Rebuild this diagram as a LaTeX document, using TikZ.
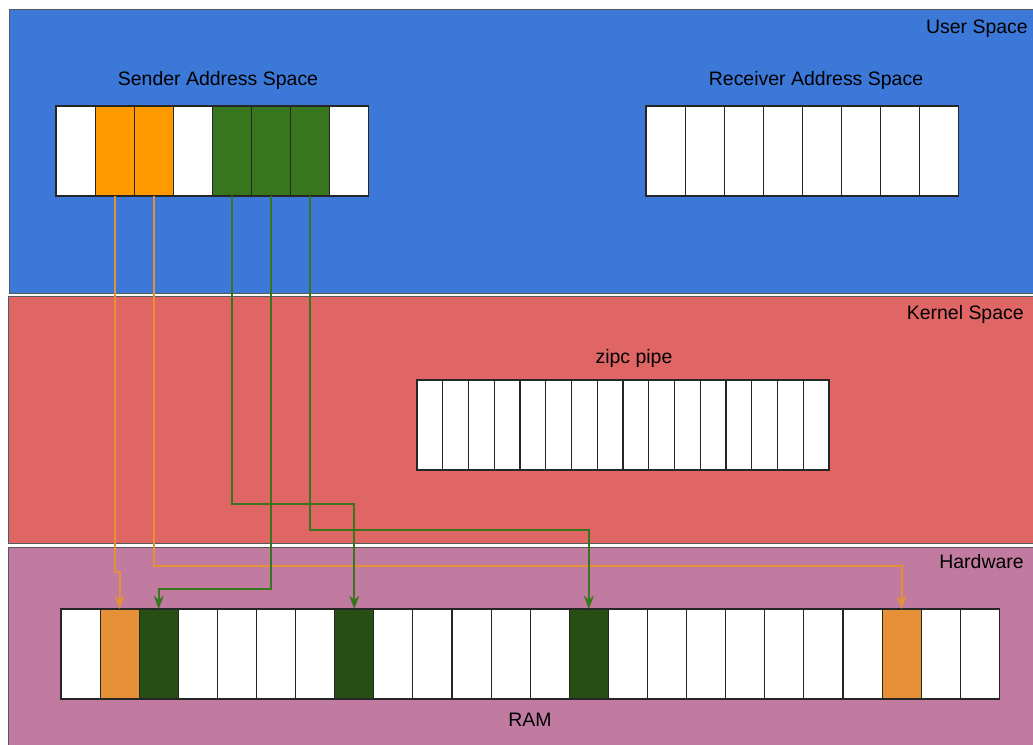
\documentclass[tikz,border=0pt]{standalone}
\usepackage{fontspec}
\setmainfont{Liberation Sans}
\usepackage{tikz}
\usetikzlibrary{arrows.meta, positioning}
\definecolor{userblue}{RGB}{60,120,216}
\definecolor{kernelred}{RGB}{224,102,102}
\definecolor{hwpurple}{RGB}{194,123,160}
\definecolor{edgegray}{RGB}{89,89,89}
\definecolor{pageorange}{RGB}{255,153,0}
\definecolor{pagegreen}{RGB}{56,118,29}
\definecolor{ramorange}{RGB}{230,145,56}
\definecolor{ramgreen}{RGB}{39,78,19}

\begin{document}
\begin{tikzpicture}[
  x=0.75pt, y=-0.75pt,
  font=\fontsize{14.6}{17}\selectfont,
  layer/.style={draw=edgegray, line width=0.75pt},
  cell/.style={draw=black!85, line width=0.8pt, fill=white, inner sep=0pt,
    outer sep=0pt, minimum width=29.33pt, minimum height=67.5pt},
  pipecell/.style={cell, minimum width=19.31pt},
  lbl/.style={anchor=base, inner sep=0pt},
  tag/.style={anchor=base east, inner sep=0pt},
  orangearr/.style={-{Stealth[length=10pt, width=7.5pt]}, draw=ramorange, line width=1.4pt},
  greenarr/.style={-{Stealth[length=10pt, width=7.5pt]}, draw=pagegreen, line width=1.6pt}
]
  \useasboundingbox (0,0) rectangle (1033,745);
  \clip (0,0) rectangle (1033,745);
  \fill[white] (0,0) rectangle (1033,745);

  % address space layers
  \filldraw[layer, fill=userblue] (9.5,10) rectangle (1045,294);
  \filldraw[layer, fill=kernelred] (8.5,296.5) rectangle (1045,544);
  \filldraw[layer, fill=hwpurple] (8.5,547.5) rectangle (1045,760);

  \node[tag] (usertag) at (1028,34) {User Space};
  \node[tag] (kerneltag) at (1024,320) {Kernel Space};
  \node[tag] (hwtag) at (1024,569) {Hardware};

  % sender and receiver pages
  \node[lbl] (sendertitle) at (218,86) {Sender Address Space};
  \foreach \i/\c in {1/white,2/pageorange,3/pageorange,4/white,5/pagegreen,6/pagegreen,7/pagegreen,8/white}
    \node[cell, fill=\c] (s\i) at ({56+39.1*(\i-0.5)},151) {};
  \node[lbl] (receivertitle) at (816,86) {Receiver Address Space};
  \foreach \i in {1,...,8}
    \node[cell] (r\i) at ({646+39.1*(\i-0.5)},151) {};

  % kernel pipe
  \node[lbl] (pipetitle) at (634,364) {zipc pipe};
  \foreach \i in {1,...,16}
    \node[pipecell] (p\i) at ({417+25.75*(\i-0.5)},425) {};

  % physical memory
  \foreach \i in {1,...,24}
    \node[cell] (m\i) at ({61+39.1*(\i-0.5)},654) {};
  \foreach \i/\c in {2/ramorange,22/ramorange,3/ramgreen,8/ramgreen,14/ramgreen}
    \node[cell, fill=\c] at (m\i) {};
  \node[lbl] (ramtitle) at (530,726) {RAM};

  % page mappings
  \draw[orangearr] (s2.south) -- ++(0,376) -| (m2.north);
  \draw[orangearr] (s3.south) -- ++(0,370) -| (m22.north);
  \draw[greenarr] (s5.south) -- ++(0,308) -| (m8.north);
  \draw[greenarr] (s6.south) -- ++(0,393) -| (m3.north);
  \draw[greenarr] (s7.south) -- ++(0,334) -| (m14.north);
\end{tikzpicture}
\end{document}
